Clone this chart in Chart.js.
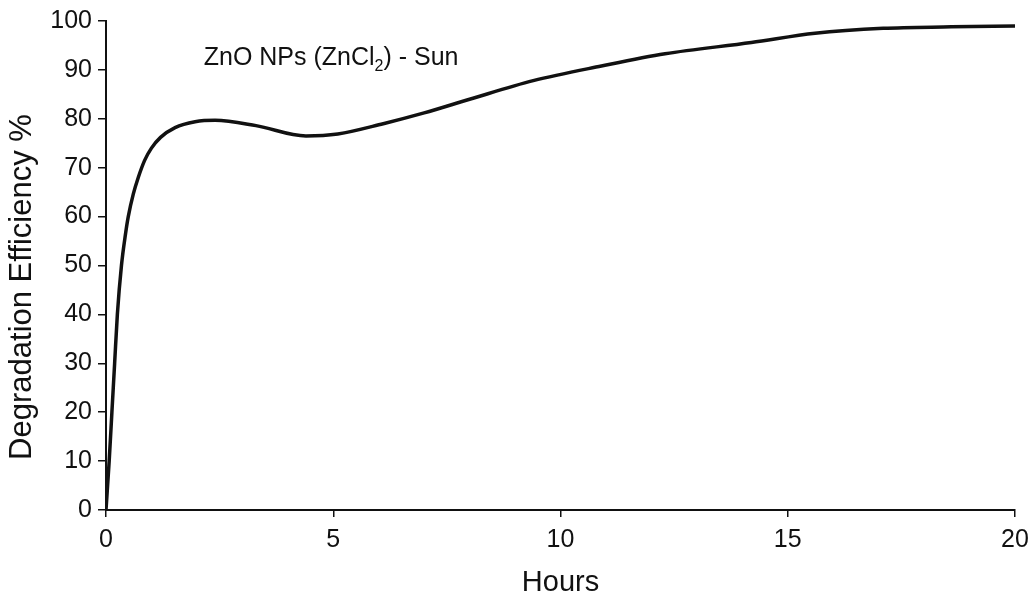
<!DOCTYPE html>
<html>
<head>
<meta charset="utf-8">
<script src="https://cdn.jsdelivr.net/npm/chart.js@4.4.1/dist/chart.umd.min.js"></script>
<style>
  html, body { margin: 0; padding: 0; background: #fff; }
  #wrap { width: 1032px; height: 600px; }
</style>
</head>
<body>
<div id="wrap"><canvas id="chart" width="1032" height="600"></canvas></div>
<script>
// values
const hours = [0, 0.07, 0.13, 0.19, 0.25, 0.34, 0.43, 0.49, 0.6, 0.71, 0.85, 1.0, 1.2, 1.52, 1.96, 2.4, 3.3, 4.4, 5.1, 6.1, 7.0, 8.0, 9.4, 10.9, 12.3, 14.2, 15.6, 17.1, 18.6, 20];
const efficiency = [0, 10, 20, 30, 40, 50, 56.5, 60, 64.6, 68, 71.5, 74, 76.2, 78.2, 79.4, 79.7, 78.6, 76.5, 76.9, 79, 81.2, 84, 87.8, 90.8, 93.3, 95.6, 97.5, 98.5, 98.8, 99];

const xTicks = [0, 5, 10, 15, 20];
const yTicks = [0, 10, 20, 30, 40, 50, 60, 70, 80, 90, 100];

const xTitle = 'Hours';
const yTitle = 'Degradation Efficiency %';

// label inside the plot, placed in data units
const noteAt = { x: 2.15, y: 91 };

const ink = '#111';
const tickFont = { family: '"Liberation Sans", Arial, sans-serif', size: 25 };
const titleFont = { family: '"Liberation Sans", Arial, sans-serif', size: 29 };

const notePlugin = {
    id: 'note',
    afterDatasetsDraw(chart) {
        const { ctx, scales } = chart;
        let x = scales.x.getPixelForValue(noteAt.x);
        const y = scales.y.getPixelForValue(noteAt.y);
        ctx.save();
        ctx.fillStyle = ink;
        ctx.textBaseline = 'alphabetic';
        ctx.font = '25px "Liberation Sans", Arial, sans-serif';
        const a = 'ZnO NPs (ZnCl';
        ctx.fillText(a, x, y);
        x += ctx.measureText(a).width;
        ctx.font = '16px "Liberation Sans", Arial, sans-serif';
        ctx.fillText('2', x, y + 6);
        x += ctx.measureText('2').width;
        ctx.font = '25px "Liberation Sans", Arial, sans-serif';
        ctx.fillText(') - Sun', x, y);

        // y axis title, sits a bit below the axis middle in the original
        ctx.translate(22, 287);
        ctx.rotate(-Math.PI / 2);
        ctx.font = '31px "Liberation Sans", Arial, sans-serif';
        ctx.textAlign = 'center';
        ctx.textBaseline = 'middle';
        ctx.fillText(yTitle, 0, 0);
        ctx.restore();
    }
};

new Chart(document.getElementById('chart').getContext('2d'), {
    type: 'line',
    data: {
        datasets: [{
            data: hours.map((h, i) => ({ x: h, y: efficiency[i] })),
            borderColor: ink,
            borderWidth: 3.5,
            pointRadius: 0,
            cubicInterpolationMode: 'monotone',
            fill: false
        }]
    },
    options: {
        responsive: false,
        animation: false,
        layout: { padding: { top: 20, right: 0, left: 0, bottom: 0 } },
        plugins: { legend: { display: false }, tooltip: { enabled: false } },
        scales: {
            x: {
                type: 'linear',
                min: 0, max: 20,
                afterBuildTicks: s => { s.ticks = xTicks.map(v => ({ value: v })); },
                afterFit: s => { s.height = 90; s.paddingRight = 17; },
                border: { color: ink, width: 2 },
                grid: { drawOnChartArea: false, color: ink, lineWidth: 1.5, tickLength: 7 },
                ticks: { color: ink, font: tickFont, padding: 8, maxRotation: 0 },
                title: { display: true, text: xTitle, color: ink, font: titleFont, padding: { top: 0, bottom: 0 } }
            },
            y: {
                min: 0, max: 100,
                afterBuildTicks: s => { s.ticks = yTicks.map(v => ({ value: v })); },
                afterFit: s => { s.width = 106; },
                border: { color: ink, width: 2 },
                grid: { drawOnChartArea: false, color: ink, lineWidth: 1.5, tickLength: 8 },
                ticks: { color: ink, font: tickFont, padding: 6 },
                title: { display: false }
            }
        }
    },
    plugins: [notePlugin]
});
</script>
</body>
</html>
